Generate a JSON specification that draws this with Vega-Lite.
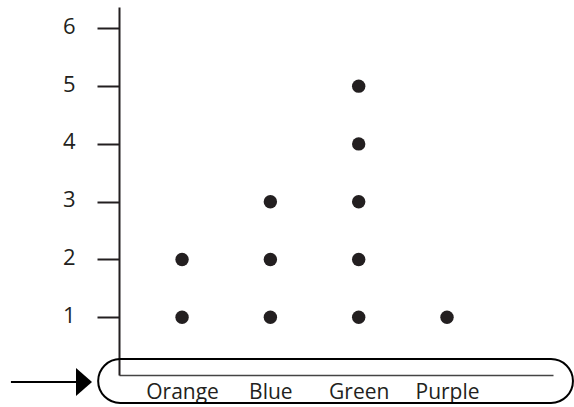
{
  "$schema": "https://vega.github.io/schema/vega-lite/v6.json",
  "width": 434,
  "height": 368,
  "autosize": {"type": "none"},
  "padding": {"left": 119, "top": 7, "right": 21, "bottom": 32},
  "config": {
    "view": {"stroke": null},
    "font": "Open Sans",
    "axis": {"grid": false, "title": null, "labelFont": "Open Sans", "labelColor": "#231f20", "domainColor": "#231f20", "tickColor": "#231f20"}
  },
  "resolve": {"scale": {"x": "independent"}},
  "layer": [
    {
      "data": {"values": [
        {"color": "Orange", "count": 1},
        {"color": "Orange", "count": 2},
        {"color": "Blue", "count": 1},
        {"color": "Blue", "count": 2},
        {"color": "Blue", "count": 3},
        {"color": "Green", "count": 1},
        {"color": "Green", "count": 2},
        {"color": "Green", "count": 3},
        {"color": "Green", "count": 4},
        {"color": "Green", "count": 5},
        {"color": "Purple", "count": 1}
      ]},
      "mark": {"type": "point", "shape": "circle", "filled": true, "size": 180, "color": "#231f20", "opacity": 1},
      "encoding": {
        "x": {
          "field": "color", "type": "nominal", "sort": ["Orange", "Blue", "Green", "Purple"],
          "scale": {"type": "point", "padding": 0.957, "align": 0.373},
          "axis": {"ticks": false, "labelAngle": 0, "labelFontSize": 21, "labelPadding": 6, "domainWidth": 1.5, "domainColor": "#444444"}
        },
        "y": {
          "field": "count", "type": "quantitative",
          "scale": {"domain": [0, 6.37], "nice": false, "zero": false},
          "axis": {"values": [1, 2, 3, 4, 5, 6], "format": "d", "tickSize": 22, "tickWidth": 2, "domainWidth": 2, "labelPadding": 22, "labelFontSize": 22, "labelOffset": -2}
        }
      }
    },
    {
      "data": {"values": [{}]},
      "mark": {"type": "rect", "filled": false, "stroke": "#000000", "strokeWidth": 2, "cornerRadius": 22, "fill": null},
      "encoding": {
        "x": {"datum": -0.048, "type": "quantitative", "scale": {"domain": [0, 1], "nice": false, "zero": false}, "axis": null},
        "x2": {"datum": 1.046},
        "y": {"datum": 0.277, "type": "quantitative"},
        "y2": {"datum": -0.484}
      }
    },
    {
      "data": {"values": [{}]},
      "mark": {"type": "rule", "stroke": "#000000", "strokeWidth": 2},
      "encoding": {
        "x": {"datum": -0.249, "type": "quantitative", "scale": {"domain": [0, 1], "nice": false, "zero": false}, "axis": null},
        "x2": {"datum": -0.097},
        "y": {"datum": -0.121, "type": "quantitative"}
      }
    },
    {
      "data": {"values": [{}]},
      "mark": {"type": "point", "shape": "M-0.571,-1L0.571,0L-0.571,1Z", "filled": true, "size": 784, "color": "#000000", "opacity": 1},
      "encoding": {
        "x": {"datum": -0.0806, "type": "quantitative", "scale": {"domain": [0, 1], "nice": false, "zero": false}, "axis": null},
        "y": {"datum": -0.121, "type": "quantitative"}
      }
    }
  ]
}
